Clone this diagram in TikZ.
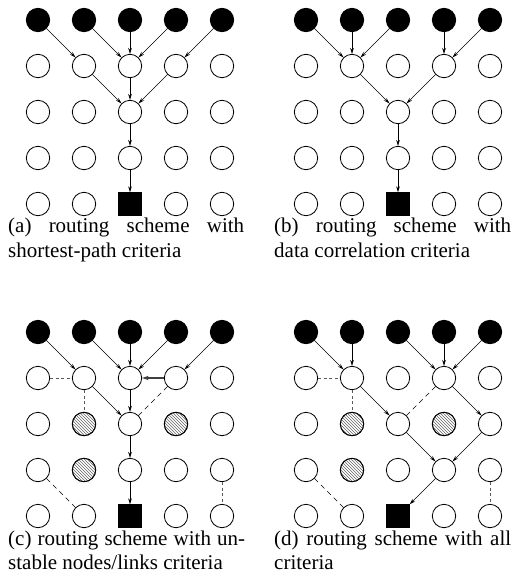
\documentclass[tikz,border=0pt]{standalone}
\usepackage{fontspec}
\setmainfont{Liberation Serif}
\usetikzlibrary{arrows.meta,patterns}

\tikzset{
  plain/.style={circle, draw, line width=0.8pt, minimum size=23.4pt, inner sep=0pt, fill=white},
  source/.style={plain, fill=black},
  unstable/.style={circle, draw, line width=0.8pt, minimum size=23.4pt, inner sep=0pt,
                   pattern=north west lines, pattern color=black!60},
  sink/.style={rectangle, draw, fill=black, minimum size=23pt, inner sep=0pt},
  arr/.style={line width=0.6pt, -{Stealth[length=6pt,width=3.6pt]}},
  thickarr/.style={line width=1.1pt, black!75, -{Stealth[length=6.5pt,width=4.2pt]}},
  shortdash/.style={line width=1pt, black!65, dash pattern=on 3pt off 2.5pt},
  longdash/.style={line width=0.6pt, dash pattern=on 5pt off 4pt},
  captext/.style={inner sep=0pt, anchor=base west, font=\fontsize{21}{25}\selectfont}
}

% 5x5 grid of sensor nodes: top row sources, sink square in the middle of the bottom row
\newcommand{\nodegrid}[1]{%
  \foreach \c in {1,...,5} {
    \node[source] (#1-\c-1) at (\c,1) {};
    \foreach \r in {2,3,4} { \node[plain] (#1-\c-\r) at (\c,\r) {}; }
    \ifnum\c=3 \node[sink] (#1-\c-5) at (\c,5) {};
    \else \node[plain] (#1-\c-5) at (\c,5) {}; \fi
  }
}
% unstable (hatched) nodes
\newcommand{\unstablenodes}[1]{%
  \node[unstable] (#1-2-3) at (2,3) {};
  \node[unstable] (#1-4-3) at (4,3) {};
  \node[unstable] (#1-2-4) at (2,4) {};
}

\begin{document}
\begin{tikzpicture}
\fill[white] (0,0) rectangle (513pt,-573pt);
\useasboundingbox (0,0) rectangle (513pt,-573pt);

% (a) shortest-path criteria
\begin{scope}[shift={(-8pt,26pt)}, x=46pt, y=-46pt]
  \nodegrid{a}
  \draw[arr] (a-1-1) -- (a-2-2);
  \draw[arr] (a-2-1) -- (a-3-2);
  \draw[arr] (a-3-1) -- (a-3-2);
  \draw[arr] (a-4-1) -- (a-3-2);
  \draw[arr] (a-5-1) -- (a-4-2);
  \draw[arr] (a-2-2) -- (a-3-3);
  \draw[arr] (a-3-2) -- (a-3-3);
  \draw[arr] (a-4-2) -- (a-3-3);
  \draw[arr] (a-3-3) -- (a-3-4);
  \draw[arr] (a-3-4) -- (a-3-5);
\end{scope}
\node[captext] (capa1) at (8pt,-232pt) {\makebox[236pt][s]{(a) routing scheme with}};
\node[captext] (capa2) at (8pt,-257pt) {shortest-path criteria};

% (b) data correlation criteria
\begin{scope}[shift={(260pt,26pt)}, x=46pt, y=-46pt]
  \nodegrid{b}
  \draw[arr] (b-1-1) -- (b-2-2);
  \draw[arr] (b-2-1) -- (b-2-2);
  \draw[arr] (b-3-1) -- (b-2-2);
  \draw[arr] (b-4-1) -- (b-4-2);
  \draw[arr] (b-5-1) -- (b-4-2);
  \draw[arr] (b-2-2) -- (b-3-3);
  \draw[arr] (b-4-2) -- (b-3-3);
  \draw[arr] (b-3-3) -- (b-3-4);
  \draw[arr] (b-3-4) -- (b-3-5);
\end{scope}
\node[captext] (capb1) at (274pt,-232pt) {\makebox[237pt][s]{(b) routing scheme with}};
\node[captext] (capb2) at (274pt,-257pt) {data correlation criteria};

% (c) unstable nodes/links criteria
\begin{scope}[shift={(-8pt,-286pt)}, x=46pt, y=-46pt]
  \nodegrid{c}
  \unstablenodes{c}
  \draw[shortdash] (c-1-2) -- (c-2-2);
  \draw[shortdash] (c-2-2) -- (c-2-3);
  \draw[shortdash] (c-5-4) -- (c-5-5);
  \draw[longdash] (c-4-2) -- (c-3-3);
  \draw[longdash] (c-1-4) -- (c-2-5);
  \draw[arr] (c-1-1) -- (c-2-2);
  \draw[arr] (c-2-1) -- (c-3-2);
  \draw[arr] (c-3-1) -- (c-3-2);
  \draw[arr] (c-4-1) -- (c-3-2);
  \draw[arr] (c-5-1) -- (c-4-2);
  \draw[thickarr] (c-4-2) -- (c-3-2);
  \draw[arr] (c-2-2) -- (c-3-3);
  \draw[arr] (c-3-2) -- (c-3-3);
  \draw[arr] (c-3-3) -- (c-3-4);
  \draw[arr] (c-3-4) -- (c-3-5);
\end{scope}
\node[captext] (capc1) at (8pt,-545pt) {\makebox[237pt][s]{(c) routing scheme with un-}};
\node[captext] (capc2) at (8pt,-569pt) {stable nodes/links criteria};

% (d) all criteria
\begin{scope}[shift={(260pt,-286pt)}, x=46pt, y=-46pt]
  \nodegrid{d}
  \unstablenodes{d}
  \draw[shortdash] (d-1-2) -- (d-2-2);
  \draw[shortdash] (d-2-2) -- (d-2-3);
  \draw[shortdash] (d-5-4) -- (d-5-5);
  \draw[longdash] (d-4-2) -- (d-3-3);
  \draw[longdash] (d-1-4) -- (d-2-5);
  \draw[arr] (d-1-1) -- (d-2-2);
  \draw[arr] (d-2-1) -- (d-2-2);
  \draw[arr] (d-3-1) -- (d-4-2);
  \draw[arr] (d-4-1) -- (d-4-2);
  \draw[arr] (d-5-1) -- (d-4-2);
  \draw[arr] (d-2-2) -- (d-3-3);
  \draw[arr] (d-4-2) -- (d-5-3);
  \draw[arr] (d-3-3) -- (d-4-4);
  \draw[arr] (d-5-3) -- (d-4-4);
  \draw[arr] (d-4-4) -- (d-3-5);
\end{scope}
\node[captext] (capd1) at (274pt,-545pt) {\makebox[237pt][s]{(d) routing scheme with all}};
\node[captext] (capd2) at (274pt,-569pt) {criteria};
\end{tikzpicture}
\end{document}
